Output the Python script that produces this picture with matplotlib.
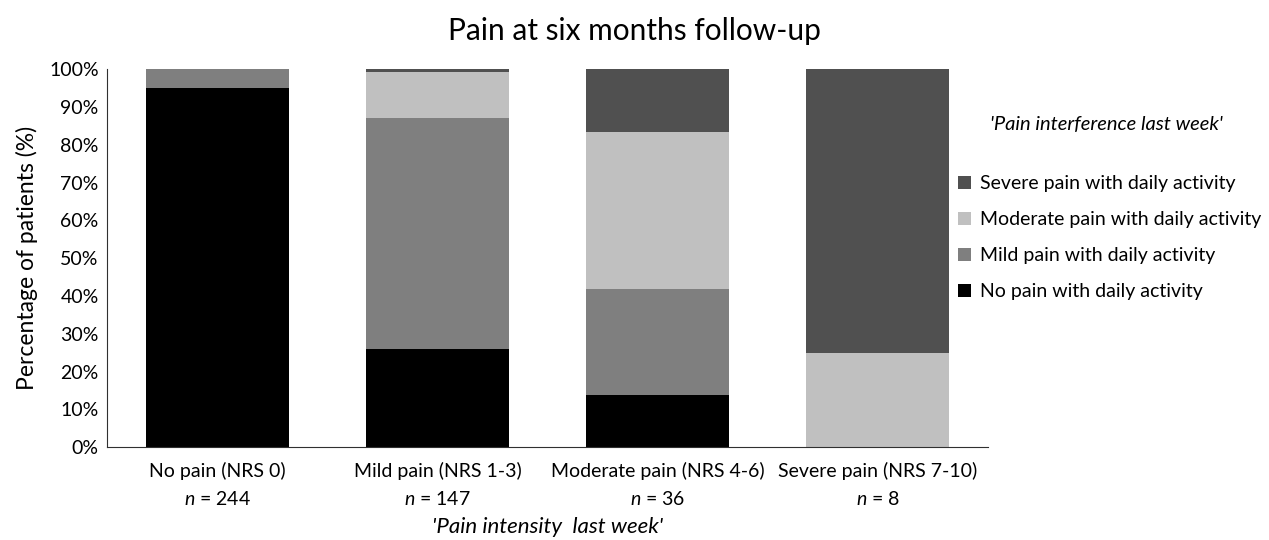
import numpy as np
import matplotlib
matplotlib.use("Agg")
import matplotlib.pyplot as plt

plt.rcParams['font.family'] = ['Lato', 'DejaVu Sans']
plt.rcParams['mathtext.fontset'] = 'custom'
plt.rcParams['mathtext.rm'] = 'Lato'
plt.rcParams['mathtext.it'] = 'Lato:italic'

# data
categories = ["No pain (NRS 0)", "Mild pain (NRS 1-3)", "Moderate pain (NRS 4-6)", "Severe pain (NRS 7-10)"]
n_patients = [244, 147, 36, 8]
series_names = ["No pain with daily activity", "Mild pain with daily activity",
                "Moderate pain with daily activity", "Severe pain with daily activity"]
no_pain = [95.1, 25.9, 13.9, 0.0]
mild_pain = [4.9, 61.2, 27.8, 0.0]
moderate_pain = [0.0, 12.2, 41.7, 25.0]
severe_pain = [0.0, 0.7, 16.6, 75.0]
colors = ["#000000", "#7f7f7f", "#c0c0c0", "#505050"]

fig = plt.figure(figsize=(12.69, 5.4), dpi=100)
ax = fig.add_axes([0.0843, 0.172, 0.6943, 0.7])

x = np.arange(len(categories))
bottom = np.zeros(len(categories))
bars = []
for vals, name, col in zip([no_pain, mild_pain, moderate_pain, severe_pain], series_names, colors):
    b = ax.bar(x, vals, width=0.65, bottom=bottom, color=col, label=name)
    bars.append(b)
    bottom += np.array(vals)

ax.set_xlim(-0.5, len(categories) - 0.5)
ax.set_ylim(0, 100)
ax.set_yticks(np.arange(0, 101, 10))
ax.set_yticklabels([f"{v}%" for v in range(0, 101, 10)], fontsize=14)
ax.set_xticks(x)
ax.set_xticklabels([f"{c}\n$n$ = {n}" for c, n in zip(categories, n_patients)],
                   fontsize=14, linespacing=1.65)
ax.tick_params(axis='both', length=0, pad=6)
ax.tick_params(axis='x', pad=11)
for s in ['top', 'right']:
    ax.spines[s].set_visible(False)
ax.spines['left'].set_color('#303030')
ax.spines['bottom'].set_color('#303030')

ax.set_ylabel("Percentage of patients (%)", fontsize=16.5, labelpad=8)
ax.set_xlabel("'Pain intensity  last week'", fontsize=16, style='italic', labelpad=6)
fig.suptitle("Pain at six months follow-up", fontsize=21.5, y=0.968)

handles = bars[::-1]
leg = fig.legend(handles, series_names[::-1], loc='upper left', bbox_to_anchor=(0.749, 0.69),
                 borderaxespad=0, frameon=False, fontsize=14, handlelength=0.65,
                 handleheight=0.65, handletextpad=0.45, labelspacing=0.98)
fig.text(0.872, 0.76, "'Pain interference last week'", fontsize=14.5, style='italic', ha='center')

fig.savefig("out.png", dpi=100)
